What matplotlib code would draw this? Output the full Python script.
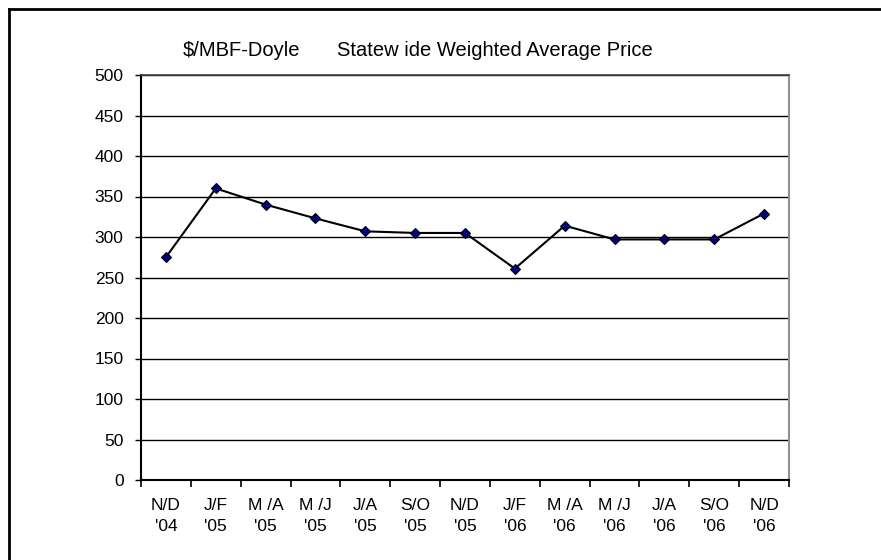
import matplotlib.pyplot as plt
from matplotlib.lines import Line2D

plt.rcParams['font.family'] = ['Liberation Sans', 'DejaVu Sans']

# data
periods = ["N/D\n'04", "J/F\n'05", "M /A\n'05", "M /J\n'05", "J/A\n'05", "S/O\n'05", "N/D\n'05",
           "J/F\n'06", "M /A\n'06", "M /J\n'06", "J/A\n'06", "S/O\n'06", "N/D\n'06"]
prices = [275, 360, 340, 323, 307, 305, 305, 261, 314, 297, 297, 297, 329]
y_ticks = list(range(0, 501, 50))

fig = plt.figure(figsize=(8.81, 5.6), dpi=100)
ax = fig.add_axes([141 / 881, 1 - 480 / 560, 648 / 881, 405 / 560])

x = list(range(len(periods)))
ax.plot(x, prices, color='black', lw=1.5, marker='D', markersize=5.5,
        markerfacecolor='#000080', markeredgecolor='black', markeredgewidth=0.8, zorder=3)

ax.set_xlim(-0.5, len(periods) - 0.5)
ax.set_ylim(0, 500)
ax.set_yticks(y_ticks)
ax.yaxis.grid(True, color='black', lw=1)
ax.set_axisbelow(True)

# category boundaries get the ticks, labels sit between them
ax.set_xticks([i - 0.5 for i in range(len(periods) + 1)])
ax.set_xticklabels([])
ax.set_xticks(x, minor=True)
ax.set_xticklabels(periods, minor=True, linespacing=1.5)
ax.tick_params(axis='x', which='major', direction='out', length=5, width=1.2, color='black')
ax.tick_params(axis='x', which='minor', length=0, pad=13, labelsize=12.5)
ax.tick_params(axis='y', direction='out', length=4.5, width=1, labelsize=12.5, pad=8)

ax.spines['left'].set_linewidth(1.5)
ax.spines['bottom'].set_linewidth(1.5)
ax.spines['right'].set_color('#909090')
ax.spines['right'].set_linewidth(1.5)
ax.spines['top'].set_color('#404040')
ax.spines['top'].set_linewidth(1.2)

fig.text(183 / 881, 1 - 51 / 560, "\\$/MBF-Doyle", fontsize=14.5, va='center', ha='left')
fig.text(337 / 881, 1 - 51 / 560, "Statew ide Weighted Average Price",
         fontsize=14.5, va='center', ha='left')

# outer chart frame (right and bottom edges fall outside the image)
fig.add_artist(Line2D([9 / 881, 9 / 881], [0, 1 - 9 / 560], color='black', lw=2,
                      transform=fig.transFigure))
fig.add_artist(Line2D([9 / 881, 1], [1 - 9 / 560, 1 - 9 / 560], color='black', lw=2,
                      transform=fig.transFigure))

fig.savefig('out.png', dpi=100)
